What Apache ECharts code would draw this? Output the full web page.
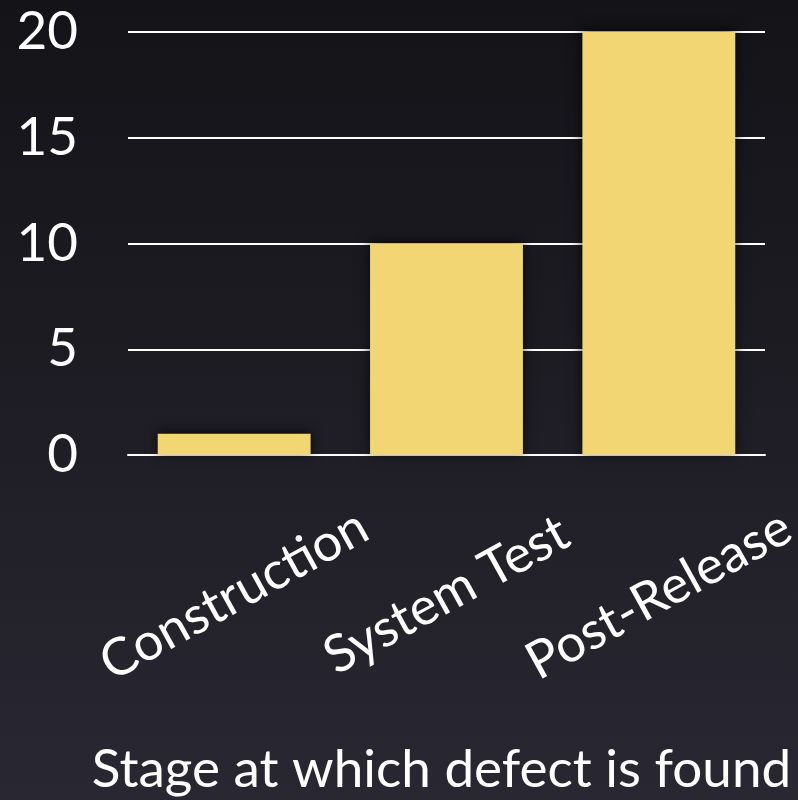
<!DOCTYPE html>
<html>
<head>
<meta charset="utf-8">
<script src="https://cdn.jsdelivr.net/npm/echarts@6/dist/echarts.min.js"></script>
<style>
  html, body { margin: 0; padding: 0; background: #1b1a22; }
  #chart { width: 798px; height: 800px; }
</style>
</head>
<body>
<div id="chart"></div>
<script>
var stages = ["Construction", "System Test", "Post-Release"];
var defects = [1, 10, 20];
var yTicks = [0, 5, 10, 15, 20];

var chart = echarts.init(document.getElementById("chart"));
var option = {
  backgroundColor: new echarts.graphic.LinearGradient(0, 0, 0, 1, [
    { offset: 0, color: "#131318" },
    { offset: 1, color: "#292731" },
  ]),
  textStyle: { fontFamily: "Lato" },
  grid: {
    left: 128,
    right: 33,
    top: 32,
    bottom: 345,
    containLabel: false,
    outerBoundsMode: "none",
  },
  xAxis: {
    type: "category",
    data: stages,
    name: "Stage at which defect is found",
    nameLocation: "middle",
    nameGap: 288,
    nameTextStyle: {
      color: "#fff",
      fontSize: 53,
      fontFamily: "Lato",
      padding: [0, 10, 0, 0],
    },
    axisLine: { lineStyle: { color: "#fff", width: 2 } },
    axisTick: { show: false },
    axisLabel: {
      color: "#fff",
      fontSize: 52,
      rotate: 29,
      align: "center",
      verticalAlign: "middle",
      margin: 140,
    },
  },
  yAxis: {
    type: "value",
    min: yTicks[0],
    max: yTicks[yTicks.length - 1],
    interval: 5,
    axisLine: { show: false },
    axisTick: { show: false },
    axisLabel: { color: "#fff", fontSize: 53, margin: 50 },
    splitLine: { lineStyle: { color: "#fff", width: 2 } },
  },
  series: [
    {
      type: "bar",
      data: defects,
      barCategoryGap: "28%",
      itemStyle: {
        color: "#f2d673",
        shadowBlur: 12,
        shadowColor: "rgba(0,0,0,0.7)",
        shadowOffsetY: -2,
      },
    },
  ],
};
chart.setOption(option);
</script>
</body>
</html>
